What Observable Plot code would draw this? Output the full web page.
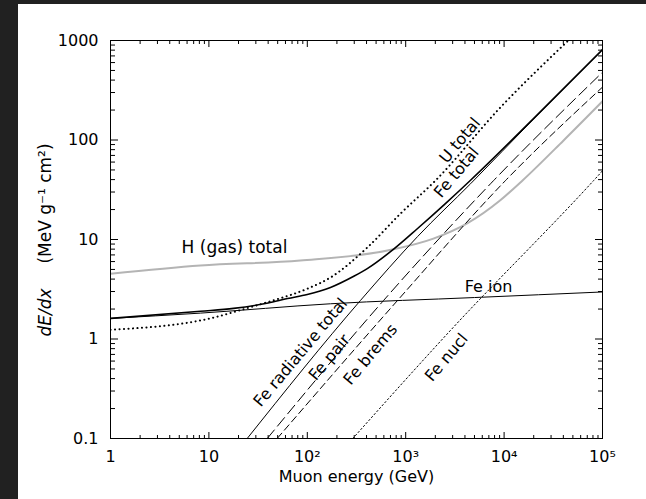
<!DOCTYPE html>
<html><head><meta charset="utf-8">
<script src="https://cdn.jsdelivr.net/npm/d3@7"></script>
<script src="https://cdn.jsdelivr.net/npm/@observablehq/plot@0.6"></script>
<style>
html,body{margin:0;padding:0;background:#212121;width:646px;height:499px;overflow:hidden}
#chart{position:absolute;left:18px;top:4px;width:628px;height:495px;background:#fff}
</style></head><body><div id="chart"></div>
<script>
// Tick values and labels
const xTicks = [1, 10, 100, 1000, 10000, 100000];
const xTickLabels = ["1", "10", "10²", "10³", "10⁴", "10⁵"];
const yTicks = [0.1, 1, 10, 100, 1000];
const yTickLabels = ["0.1", "1", "10", "100", "1000"];

// Series (muon energy in GeV, dE/dx in MeV g^-1 cm^2)
const hGasE = [1, 8.2, 85, 653, 1910, 4260, 9150, 15400, 40200, 100000];
const hGasV = [4.52, 5.48, 6.15, 7.74, 10.2, 14.6, 24.8, 39.2, 99, 245];

const uTotalE = [1, 10, 26.5, 45, 100, 172, 407, 885, 2000, 9150, 45000];
const uTotalV = [1.24, 1.6, 2.09, 2.44, 3.2, 4.15, 8.3, 18.2, 39, 212, 1000];

const feTotalE = [1, 8.2, 17.8, 40, 63, 100, 172, 300, 407, 754, 1320, 2500, 4560, 19900, 100000];
const feTotalV = [1.61, 1.9, 2.03, 2.3, 2.55, 2.8, 3.3, 4.3, 5.1, 8.0, 12.9, 22.7, 39.4, 164, 810];

const feIonE = [1, 8.2, 172, 5000, 100000];
const feIonV = [1.61, 1.82, 2.26, 2.61, 2.97];

const feRadE = [24.5, 347, 1320, 4560, 19900, 100000];
const feRadV = [0.1, 2.44, 10.7, 36.3, 162, 806];

const fePairE = [39.2, 596, 7800, 100000];
const fePairV = [0.1, 2.44, 39, 480];

const feBremsE = [49.4, 826, 10300, 100000];
const feBremsV = [0.1, 2.44, 39, 340];

const feNuclE = [290, 2850, 81000, 100000];
const feNuclV = [0.1, 1.22, 39, 49];

// Curve labels
const labelText = ["U total", "Fe total", "H (gas) total", "Fe ion", "Fe radiative total", "Fe pair", "Fe brems", "Fe nucl"];
const labelE = [3565, 3283, 18.2, 6940, 85.3, 168, 439, 2600];
const labelV = [98.9, 47.1, 8.32, 3.37, 0.731, 0.652, 0.698, 0.652];
const labelRot = [-50, -50, 0, 0, -50, -50, -50, -50];
const labelSize = [16, 16, 17, 16, 16, 16, 16, 16];

const rows = (E, V) => E.map((e, i) => ({E: e, v: V[i]}));
const labels = labelText.map((t, i) => ({text: t, E: labelE[i], v: labelV[i], rot: labelRot[i], size: labelSize[i]}));

const minorX = d3.scaleLog().domain([1, 1e5]).ticks().filter(d => !xTicks.some(t => Math.abs(t - d) / t < 1e-9));
const minorY = d3.scaleLog().domain([0.1, 1000]).ticks().filter(d => !yTicks.some(t => Math.abs(t - d) / t < 1e-9));

const lineOpts = {x: "E", y: "v", curve: "monotone-x", clip: true};

const chart = Plot.plot({
  width: 628,
  height: 495,
  marginLeft: 92,
  marginRight: 44,
  marginTop: 36,
  marginBottom: 61,
  style: {fontFamily: "DejaVu Sans", fontSize: "15px", color: "black", background: "white"},
  x: {type: "log", domain: [1, 1e5], label: null, axis: null},
  y: {type: "log", domain: [0.1, 1000], label: null, axis: null},
  marks: [
    Plot.line(rows(hGasE, hGasV), {...lineOpts, stroke: "#b4b4b4", strokeWidth: 2}),
    Plot.line(rows(feNuclE, feNuclV), {...lineOpts, stroke: "black", strokeWidth: 1, strokeDasharray: "1.5,2.5"}),
    Plot.line(rows(feBremsE, feBremsV), {...lineOpts, stroke: "black", strokeWidth: 1, strokeDasharray: "7,4"}),
    Plot.line(rows(fePairE, fePairV), {...lineOpts, stroke: "black", strokeWidth: 1, strokeDasharray: "11,5"}),
    Plot.line(rows(feRadE, feRadV), {...lineOpts, stroke: "black", strokeWidth: 1}),
    Plot.line(rows(feIonE, feIonV), {...lineOpts, stroke: "black", strokeWidth: 1}),
    Plot.line(rows(feTotalE, feTotalV), {...lineOpts, stroke: "black", strokeWidth: 1.6}),
    Plot.line(rows(uTotalE, uTotalV), {...lineOpts, stroke: "black", strokeWidth: 2, strokeDasharray: "0.1,4.4", strokeLinecap: "round"}),
    Plot.text(labels, {x: "E", y: "v", text: "text", rotate: "rot", fontSize: "size", fill: "black"}),
    // inward ticks
    Plot.axisX(xTicks, {anchor: "top", frameAnchor: "bottom", tickSize: 7, fill: "none", label: null}),
    Plot.axisX(xTicks, {anchor: "bottom", frameAnchor: "top", tickSize: 7, fill: "none", label: null}),
    Plot.axisX(minorX, {anchor: "top", frameAnchor: "bottom", tickSize: 4, fill: "none", label: null}),
    Plot.axisX(minorX, {anchor: "bottom", frameAnchor: "top", tickSize: 4, fill: "none", label: null}),
    Plot.axisY(yTicks, {anchor: "right", frameAnchor: "left", tickSize: 7, fill: "none", label: null}),
    Plot.axisY(yTicks, {anchor: "left", frameAnchor: "right", tickSize: 7, fill: "none", label: null}),
    Plot.axisY(minorY, {anchor: "right", frameAnchor: "left", tickSize: 4, fill: "none", label: null}),
    Plot.axisY(minorY, {anchor: "left", frameAnchor: "right", tickSize: 4, fill: "none", label: null}),
    // tick labels
    Plot.axisX(xTicks, {anchor: "bottom", tickSize: 0, tickPadding: 12, fontSize: 16, label: null,
      tickFormat: d => xTickLabels[xTicks.indexOf(d)]}),
    Plot.axisY(yTicks, {anchor: "left", tickSize: 0, tickPadding: 12, fontSize: 16, label: null,
      tickFormat: d => yTickLabels[yTicks.indexOf(d)]}),
    Plot.frame({stroke: "black", strokeWidth: 1}),
    // axis titles
    Plot.text(["Muon energy (GeV)"], {frameAnchor: "bottom", dy: 43, fontSize: 16, textAnchor: "middle"}),
    Plot.text(["dE/dx"], {frameAnchor: "left", dx: -65, dy: 73, rotate: -90, fontSize: 17, fontStyle: "italic", textAnchor: "middle"}),
    Plot.text(["(MeV g⁻¹ cm²)"], {frameAnchor: "left", dx: -65, dy: -36, rotate: -90, fontSize: 17, textAnchor: "middle"})
  ]
});
document.getElementById("chart").appendChild(chart);
</script></body></html>
